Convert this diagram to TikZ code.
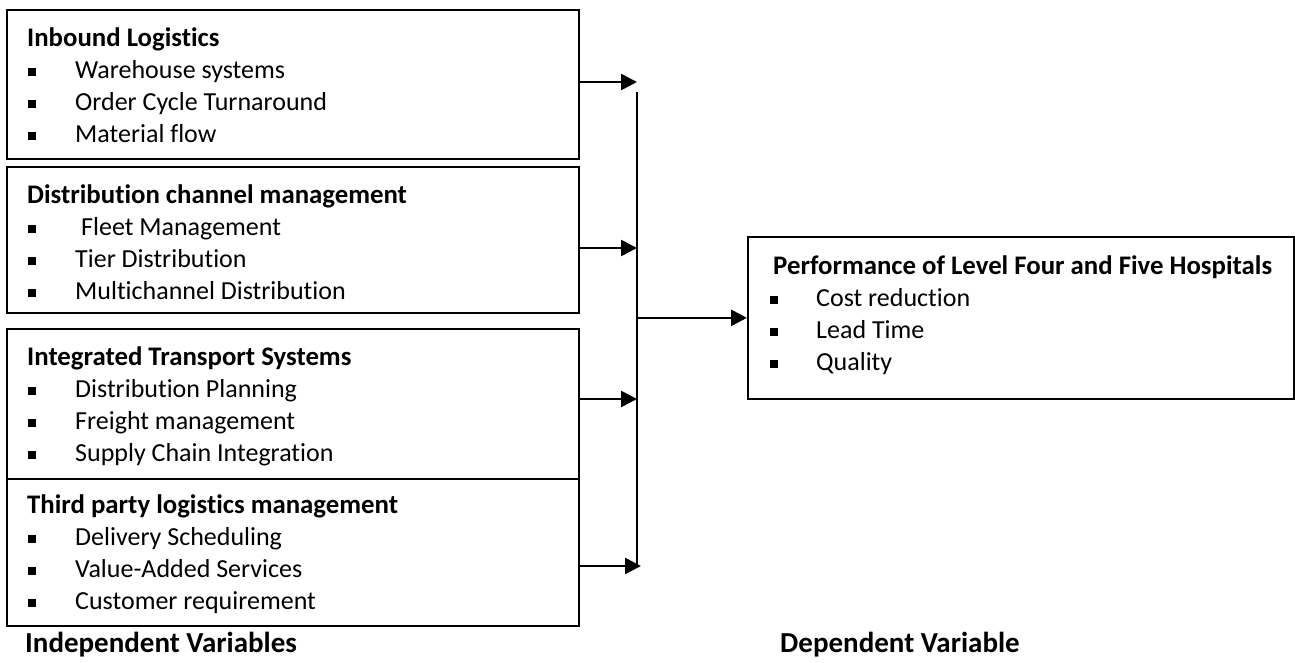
\documentclass[tikz,border=0pt]{standalone}
\usepackage{fontspec}
\setmainfont{Carlito}[Ligatures=CommonOff]
\usetikzlibrary{arrows.meta}

\newcommand{\sqbul}[1][47pt]{\makebox[#1][l]{\rule[2.5pt]{8pt}{8pt}}}

\begin{document}
\begin{tikzpicture}[x=1pt, y=-1pt,
    box/.style={draw, line width=1.7pt, anchor=north west, inner sep=0pt},
    txt/.style={anchor=base west, inner sep=0pt, font=\fontsize{26}{32}\selectfont},
    head/.style={txt, font=\fontsize{26.8}{32}\selectfont\bfseries},
    foot/.style={txt, font=\fontsize{29}{35}\selectfont\bfseries},
    arr/.style={-{Triangle[length=16pt,width=16pt]}, line width=2.6pt}]
    \useasboundingbox (0,0) rectangle (1295,662);

    % independent variables
    \node[box, minimum width=572pt, minimum height=149pt] (inb) at (6,9) {};
    \node[box, minimum width=572pt, minimum height=146pt] (dist) at (6,166) {};
    \node[box, minimum width=572pt, minimum height=150pt] (its) at (6,328) {};
    \node[box, minimum width=572pt, minimum height=147pt] (tpl) at (6,478) {};

    \node[head] (inb-h) at (27,46) {Inbound Logistics};
    \foreach \t [count=\i] in {Warehouse systems, Order Cycle Turnaround, Material flow}
      \node[txt] (inb-\i) at (28,46+32*\i) {\sqbul\t};

    \node[head] (dist-h) at (27,203) {Distribution channel management};
    \foreach \t [count=\i] in {\hspace{6pt}Fleet Management, Tier Distribution, Multichannel Distribution}
      \node[txt] (dist-\i) at (28,203+32*\i) {\sqbul\t};

    \node[head] (its-h) at (27,365) {Integrated Transport Systems};
    \foreach \t [count=\i] in {Distribution Planning, Freight management, Supply Chain Integration}
      \node[txt] (its-\i) at (28,365+32*\i) {\sqbul\t};

    \node[head] (tpl-h) at (27,513) {Third party logistics management};
    \foreach \t [count=\i] in {Delivery Scheduling, Value-Added Services, Customer requirement}
      \node[txt] (tpl-\i) at (28,513+32*\i) {\sqbul\t};

    % dependent variable
    \node[box, minimum width=546pt, minimum height=162pt] (perf) at (747,236) {};
    \node[head] (perf-h) at (773,274) {Performance of Level Four and Five Hospitals};
    \foreach \t [count=\i] in {Cost reduction, Lead Time, Quality}
      \node[txt] (perf-\i) at (770,274+32*\i) {\sqbul[46pt]\t};

    % joining line
    \coordinate (vtop) at (637,92);
    \coordinate (vbot) at (637,566);
    \coordinate (j1) at (637,82);
    \coordinate (j2) at (637,248);
    \coordinate (j3) at (637,399);
    \coordinate (j4) at (641,566);
    \draw[line width=2pt] (vtop) -- (vbot);
    \draw[arr] (inb.east |- j1) -- (j1);
    \draw[arr] (dist.east |- j2) -- (j2);
    \draw[arr] (its.east |- j3) -- (j3);
    \draw[arr] (tpl.east |- j4) -- (j4);
    \draw[arr] (perf.west -| vtop) -- (perf.west);

    \node[foot] (indep) at (25,652) {Independent Variables};
    \node[foot] (dep) at (780,652) {Dependent Variable};
  \end{tikzpicture}
\end{document}
